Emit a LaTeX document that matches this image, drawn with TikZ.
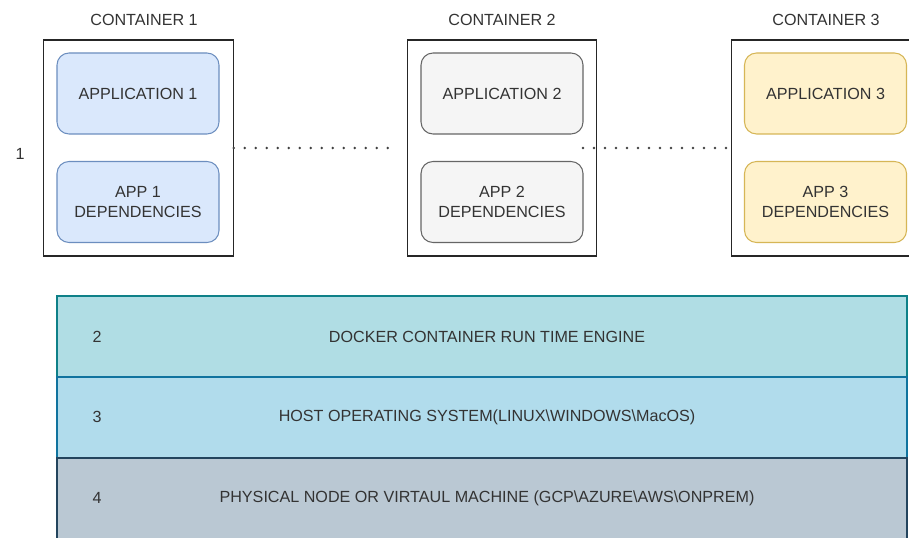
\documentclass[tikz,border=0pt]{standalone}
\usepackage{fontspec}
\setmainfont{Liberation Sans}
\usetikzlibrary{positioning}

\definecolor{appblue}{HTML}{DAE8FC}
\definecolor{appblueline}{HTML}{6C8EBF}
\definecolor{appgray}{HTML}{F5F5F5}
\definecolor{appgrayline}{HTML}{666666}
\definecolor{appyellow}{HTML}{FFF2CC}
\definecolor{appyellowline}{HTML}{D6B656}
\definecolor{enginefill}{HTML}{B0DDE4}
\definecolor{engineline}{HTML}{0E8088}
\definecolor{hostfill}{HTML}{B1DCEC}
\definecolor{hostline}{HTML}{10739E}
\definecolor{physfill}{HTML}{BAC8D3}
\definecolor{physline}{HTML}{23445D}
\definecolor{txt}{HTML}{333333}

\tikzset{
  every node/.style={font=\fontsize{12.1}{15}\selectfont, text=txt},
  container/.style={draw=black!85, line width=0.8pt, fill=white, minimum width=142pt, minimum height=162pt, inner sep=0pt},
  appbox/.style={rounded corners=9pt, line width=0.8pt, minimum width=121.5pt, minimum height=60.75pt, align=center, inner sep=0pt},
  layer/.style={line width=0.8pt, minimum width=637.5pt, minimum height=60.75pt, inner sep=0pt, font=\fontsize{12.1}{15}\selectfont, execute at begin node=\hspace*{7.5pt}},
  dots/.style={draw=black!75, line width=2pt, line cap=round, dash pattern=on 0pt off 8.25pt},
}

\begin{document}
\begin{tikzpicture}[x=0.75pt,y=-0.75pt]
\def\appy{93.5};\def\depy{202};\def\midy{148};
\clip (0,0) rectangle (909,538);
\useasboundingbox (0,0) rectangle (909,538);

% containers
\node[container] (cont_1) at (138.5,\midy) {};
\node[container] (cont_2) at (502,\midy) {};
\node[container] (cont_3) at (826,\midy) {};

\node (lab_1) at (144,20) {CONTAINER 1};
\node (lab_2) at (502,20) {CONTAINER 2};
\node (lab_3) at (826,20) {CONTAINER 3};
\node (num_1) at (20,154) {1};

% applications
\node[appbox, fill=appblue, draw=appblueline] (app_1) at (138,\appy) {APPLICATION 1};
\node[appbox, fill=appblue, draw=appblueline] (dep_1) at (138,\depy) {APP 1\\DEPENDENCIES};
\node[appbox, fill=appgray, draw=appgrayline] (app_2) at (502,\appy) {APPLICATION 2};
\node[appbox, fill=appgray, draw=appgrayline] (dep_2) at (502,\depy) {APP 2\\DEPENDENCIES};
\node[appbox, fill=appyellow, draw=appyellowline] (app_3) at (825.5,\appy) {APPLICATION 3};
\node[appbox, fill=appyellow, draw=appyellowline] (dep_3) at (825.5,\depy) {APP 3\\DEPENDENCIES};

% dotted links
\coordinate (dot_1) at (388,\midy);
\coordinate (dot_2) at (583,\midy);
\draw[dots] (cont_1.east) -- (dot_1);
\draw[dots] (dot_2) -- ([xshift=3pt]cont_3.west);

% layers
\node[layer, fill=enginefill, draw=engineline] (engine) at (482,336.5) {DOCKER CONTAINER RUN TIME ENGINE};
\node[layer, fill=hostfill, draw=hostline] (host) at (482,417.5) {HOST OPERATING SYSTEM(LINUX\textbackslash WINDOWS\textbackslash MacOS)};
\node[layer, fill=physfill, draw=physline] (phys) at (482,498.5) {PHYSICAL NODE OR VIRTAUL MACHINE (GCP\textbackslash AZURE\textbackslash AWS\textbackslash ONPREM)};

\node (num_2) at (97,337) {2};
\node (num_3) at (97,417) {3};
\node (num_4) at (97,498) {4};
\end{tikzpicture}
\end{document}
